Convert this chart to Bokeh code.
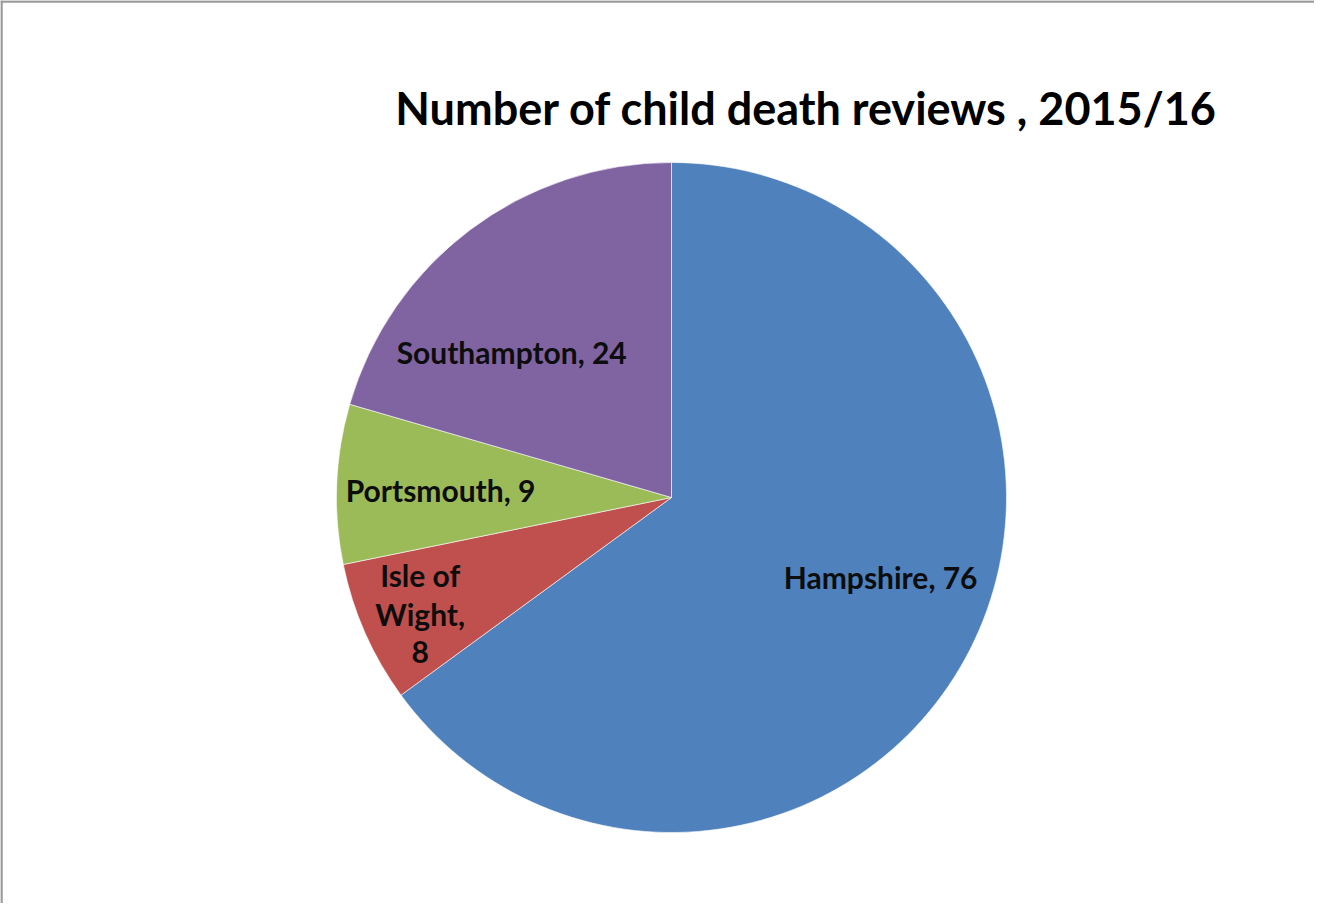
import math
from bokeh.plotting import figure
from bokeh.models import Range1d, ColumnDataSource
from bokeh.core.properties import value
from bokeh.embed import file_html
from bokeh.resources import INLINE

# ---- data ----
categories = ["Hampshire", "Isle of Wight", "Portsmouth", "Southampton"]
counts = [76, 8, 9, 24]
colors = ["#4F81BD", "#C0504D", "#9BBB59", "#8064A2"]
title_text = "Number of child death reviews , 2015/16"

# ---- layout ----
W, H = 1314, 903
CX, CY, R = 671, 406, 335          # pie centre / radius in plot units (1 unit = 1 px)
FONT = "Lato"

p = figure(width=W, height=H, output_backend="svg", toolbar_location=None,
           x_range=Range1d(0, W), y_range=Range1d(0, H), min_border=0,
           background_fill_color="white", border_fill_color="white")
p.axis.visible = False
p.grid.visible = False
p.outline_line_color = None

total = float(sum(counts))
starts, ends, mids = [], [], []
cum = 0.0
for c in counts:
    a0 = math.pi / 2 - 2 * math.pi * cum / total
    cum += c
    a1 = math.pi / 2 - 2 * math.pi * cum / total
    starts.append(a0)
    ends.append(a1)
    mids.append((a0 + a1) / 2)

src = ColumnDataSource(dict(x=[CX] * len(counts), y=[CY] * len(counts),
                            start=starts, end=ends, color=colors))
p.wedge(x="x", y="y", radius=R, start_angle="start", end_angle="end",
        direction="clock", fill_color="color", line_color="white", line_width=0.6,
        source=src)

# labels: anchored on the slice mid-angle, then nudged like the original
label_radius = [0.67, 0.83, 0.69, 0.64]
label_nudge = [(9, -22), (3, 4), (0, 2), (-31, 26)]   # screen px (x right, y down)
label_lines = [["Hampshire, 76"], ["Isle of", "Wight,", "8"], ["Portsmouth, 9"], ["Southampton, 24"]]
line_h = 38.5
for i, lines in enumerate(label_lines):
    lx = CX + R * label_radius[i] * math.cos(mids[i]) + label_nudge[i][0]
    ly = CY + R * label_radius[i] * math.sin(mids[i]) - label_nudge[i][1]
    n = len(lines)
    for k, t in enumerate(lines):
        yy = ly + ((n - 1) / 2 - k) * line_h
        p.text(x=[lx], y=[yy], text=[t], text_font=value(FONT), text_font_style="bold",
               text_font_size="30px", text_color="#0d0d0d", text_align="center",
               text_baseline="middle")

# title
p.text(x=[806], y=[H - 107], text=[title_text], text_font=value(FONT),
       text_font_style="bold", text_font_size="45px", text_color="#000000",
       text_align="center", text_baseline="alphabetic")

# frame lines (top and left) of the surrounding box
p.segment(x0=[0], y0=[H - 1], x1=[W], y1=[H - 1], line_color="#9a9a9a", line_width=2.5)
p.segment(x0=[1], y0=[0], x1=[1], y1=[H], line_color="#9a9a9a", line_width=2.5)

open("out.html", "w").write(file_html(p, INLINE))
